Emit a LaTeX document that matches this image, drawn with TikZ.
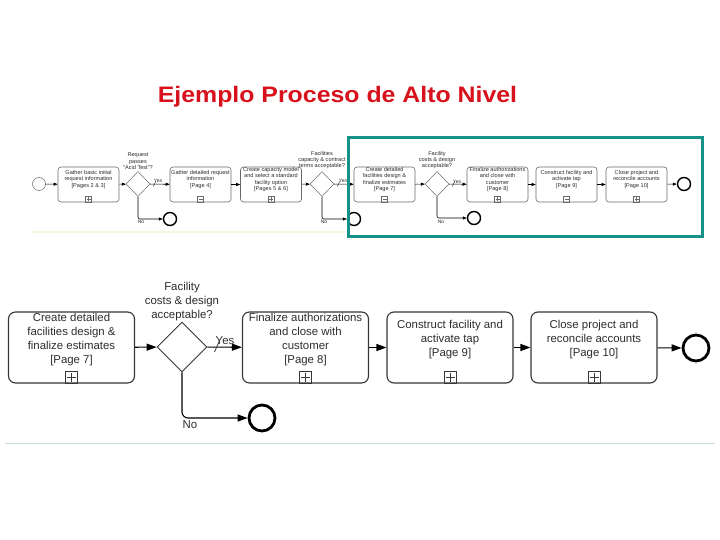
\documentclass[tikz,border=0pt]{standalone}
\usepackage{fontspec}
\setmainfont{Liberation Sans}
\usetikzlibrary{shapes.geometric,arrows.meta}
\definecolor{titlered}{RGB}{215,18,28}
\definecolor{tealframe}{RGB}{22,146,136}
\definecolor{ln}{RGB}{55,55,55}
\definecolor{txt}{RGB}{45,45,45}
\definecolor{lnlight}{RGB}{105,105,105}
\definecolor{faintyellow}{RGB}{250,246,220}
\definecolor{faintblue}{RGB}{200,222,226}
\begin{document}
\begin{tikzpicture}[x=1pt,y=-1pt,
  bigbox/.style={draw=ln, line width=1.1pt, rounded corners=7pt, minimum width=126pt, minimum height=71pt, inner sep=0pt},
  bigtext/.style={text=txt, font=\fontsize{11.4}{14}\selectfont, align=center, inner sep=0pt},
  bigdia/.style={diamond, draw=ln, line width=0.9pt, minimum width=50pt, minimum height=50pt, inner sep=0pt},
  bigmark/.style={draw=ln, line width=0.8pt, minimum size=12pt, inner sep=0pt, anchor=south},
  bigarrow/.style={draw=black, line width=1.1pt, -{Triangle[length=10pt,width=7pt]}},
  bigend/.style={circle, draw=black, line width=2.8pt, minimum size=26pt, inner sep=0pt},
  smbox/.style={draw=lnlight, line width=0.6pt, rounded corners=3pt, minimum width=61pt, minimum height=35pt, inner sep=0pt},
  smtext/.style={text=txt, font=\fontsize{5.6}{6.4}\selectfont, align=center, inner sep=0pt},
  smdia/.style={diamond, draw=lnlight, line width=0.5pt, minimum width=24pt, minimum height=25pt, inner sep=0pt},
  smmark/.style={draw=lnlight, line width=0.4pt, minimum size=6pt, inner sep=0pt, anchor=south},
  smarrow/.style={draw=black, line width=0.6pt, -{Triangle[length=4pt,width=3pt]}},
  smend/.style={circle, draw=black, line width=1.4pt, minimum size=13pt, inner sep=0pt},
  smstart/.style={circle, draw=lnlight, line width=0.5pt, minimum size=13pt, inner sep=0pt},
  plusb/.style={path picture={\draw[line width=0.7pt] ([xshift=-#1]path picture bounding box.center) -- ([xshift=#1]path picture bounding box.center) ([yshift=-#1]path picture bounding box.center) -- ([yshift=#1]path picture bounding box.center);}},
  minusb/.style={path picture={\draw[line width=0.5pt] ([xshift=-#1]path picture bounding box.center) -- ([xshift=#1]path picture bounding box.center);}}
]
\useasboundingbox (0,0) rectangle (720,540);
\fill[white] (0,0) rectangle (720,540);

% title
\node[font=\fontsize{22.4}{26}\selectfont\bfseries, text=titlered, xscale=1.11, anchor=base, inner sep=0pt] (title) at (337.5,103) {Ejemplo Proceso de Alto Nivel};

% faint lines
\draw[faintyellow, line width=1.5pt] (30,232) -- (345,232);
\draw[faintblue, line width=1pt] (5,443) -- (715,443);

% ---------- top strip ----------
\node[smstart] (s0) at (39,184) {};
\node[smbox] (t1) at (88.5,184.5) {};
\node[smdia] (d1) at (138,184) {};
\node[smbox] (t2) at (200.5,184.5) {};
\node[smbox] (t3) at (271,184.5) {};
\node[smdia] (d2) at (322,184) {};
\node[smbox] (t4) at (384.5,184.5) {};
\node[smdia] (d3) at (437,184) {};
\node[smbox] (t5) at (497.5,184.5) {};
\node[smbox] (t6) at (566.5,184.5) {};
\node[smbox] (t7) at (636.5,184.5) {};
\node[smend] (e0) at (684,184) {};
\node[smend] (n1) at (170,219) {};
\node[smend] (n2) at (354,219) {};
\node[smend] (n3) at (474,218) {};

\node[smtext] (t1l) at ([yshift=5pt]t1.center) {Gather basic initial\\request information\\{[}Pages 2 \& 3{]}};
\node[smtext] (t2l) at ([yshift=5pt]t2.center) {Gather detailed request\\information\\{[}Page 4{]}};
\node[smtext] (t3l) at ([yshift=5pt]t3.center) {Create capacity model\\and select a standard\\facility option\\{[}Pages 5 \& 6{]}};
\node[smtext] (t4l) at ([yshift=5pt]t4.center) {Create detailed\\facilities design \&\\finalize estimates\\{[}Page 7{]}};
\node[smtext] (t5l) at ([yshift=5pt]t5.center) {Finalize authorizations\\and close with\\customer\\{[}Page 8{]}};
\node[smtext] (t6l) at ([yshift=5pt]t6.center) {Construct facility and\\activate tap\\{[}Page 9{]}};
\node[smtext] (t7l) at ([yshift=5pt]t7.center) {Close project and\\reconcile accounts\\{[}Page 10{]}};

\node[smmark, plusb=2pt] (m1) at (t1.south) {};
\node[smmark, minusb=2pt] (m2) at (t2.south) {};
\node[smmark, plusb=2pt] (m3) at (t3.south) {};
\node[smmark, minusb=2pt] (m4) at (t4.south) {};
\node[smmark, plusb=2pt] (m5) at (t5.south) {};
\node[smmark, minusb=2pt] (m6) at (t6.south) {};
\node[smmark, plusb=2pt] (m7) at (t7.south) {};

\node[smtext] (d1l) at (138,161.5) {Request\\passes\\``Acid Test''?};
\node[smtext] (d2l) at (322,160) {Facilities\\capacity \& contract\\terms acceptable?};
\node[smtext] (d3l) at (437,160) {Facility\\costs \& design\\acceptable?};

\draw[smarrow] (s0) -- (t1);
\draw[smarrow] (t1) -- (d1);
\draw[smarrow] (d1) -- (t2);
\draw[smarrow] (t2) -- (t3);
\draw[smarrow] (t3) -- (d2);
\draw[smarrow] (d2) -- (t4);
\draw[smarrow] (t4) -- (d3);
\draw[smarrow] (d3) -- (t5);
\draw[smarrow] (t5) -- (t6);
\draw[smarrow] (t6) -- (t7);
\draw[smarrow] (t7) -- (e0);
\draw[smarrow, rounded corners=2pt] (d1.south) |- (n1);
\draw[smarrow, rounded corners=2pt] (d2.south) |- (n2);
\draw[smarrow, rounded corners=2pt] (d3.south) |- (n3);
\foreach \d in {d1,d2,d3}{
  \draw[line width=0.4pt] ([xshift=3pt,yshift=-2.5pt]\d.east) -- ([xshift=5.5pt,yshift=2.5pt]\d.east);
}
\node[smtext, font=\fontsize{5}{6}\selectfont] (y1) at (158,181) {Yes};
\node[smtext, font=\fontsize{5}{6}\selectfont] (y2) at (343,181) {Yes};
\node[smtext, font=\fontsize{5}{6}\selectfont] (y3) at (457,182) {Yes};
\node[smtext, font=\fontsize{5}{6}\selectfont] (no1) at (141,221.5) {No};
\node[smtext, font=\fontsize{5}{6}\selectfont] (no2) at (324,221.5) {No};
\node[smtext, font=\fontsize{5}{6}\selectfont] (no3) at (441,222) {No};

% teal frame
\draw[tealframe, line width=3pt] (348,138) rectangle (702,236);

% ---------- enlarged part ----------
\node[bigbox] (A) at (71.5,347.5) {};
\node[bigdia] (bd) at (182,347) {};
\node[bigbox] (B) at (305.5,347.5) {};
\node[bigbox] (C) at (450,347.5) {};
\node[bigbox] (D) at (594,347.5) {};
\node[bigend] (be) at (696,348) {};
\node[bigend] (bn) at (262,418) {};

\node[bigtext] (Al) at ([yshift=7.5pt]A.center) {Create detailed\\facilities design \&\\finalize estimates\\{[}Page 7{]}};
\node[bigtext] (Bl) at ([yshift=7.5pt]B.center) {Finalize authorizations\\and close with\\customer\\{[}Page 8{]}};
\node[bigtext] (Cl) at ([yshift=7.5pt]C.center) {Construct facility and\\activate tap\\{[}Page 9{]}};
\node[bigtext] (Dl) at ([yshift=7.5pt]D.center) {Close project and\\reconcile accounts\\{[}Page 10{]}};

\node[bigmark, plusb=4.5pt] (mA) at (A.south) {};
\node[bigmark, plusb=4.5pt] (mB) at (B.south) {};
\node[bigmark, plusb=4.5pt] (mC) at (C.south) {};
\node[bigmark, plusb=4.5pt] (mD) at (D.south) {};

\node[bigtext] (bdl) at (182,302) {Facility\\costs \& design\\acceptable?};

\draw[bigarrow] (A) -- (bd);
\draw[bigarrow] (bd) -- (B);
\draw[bigarrow] (B) -- (C);
\draw[bigarrow] (C) -- (D);
\draw[bigarrow] (D) -- (be);
\draw[bigarrow, rounded corners=6pt] (bd.south) |- (bn);
\draw[line width=0.8pt, ln] ([xshift=7pt,yshift=-5pt]bd.east) -- ([xshift=12pt,yshift=6pt]bd.east);
\node[bigtext] (yes) at (225,341) {Yes};
\node[bigtext] (no) at (190,425) {No};
\end{tikzpicture}
\end{document}
